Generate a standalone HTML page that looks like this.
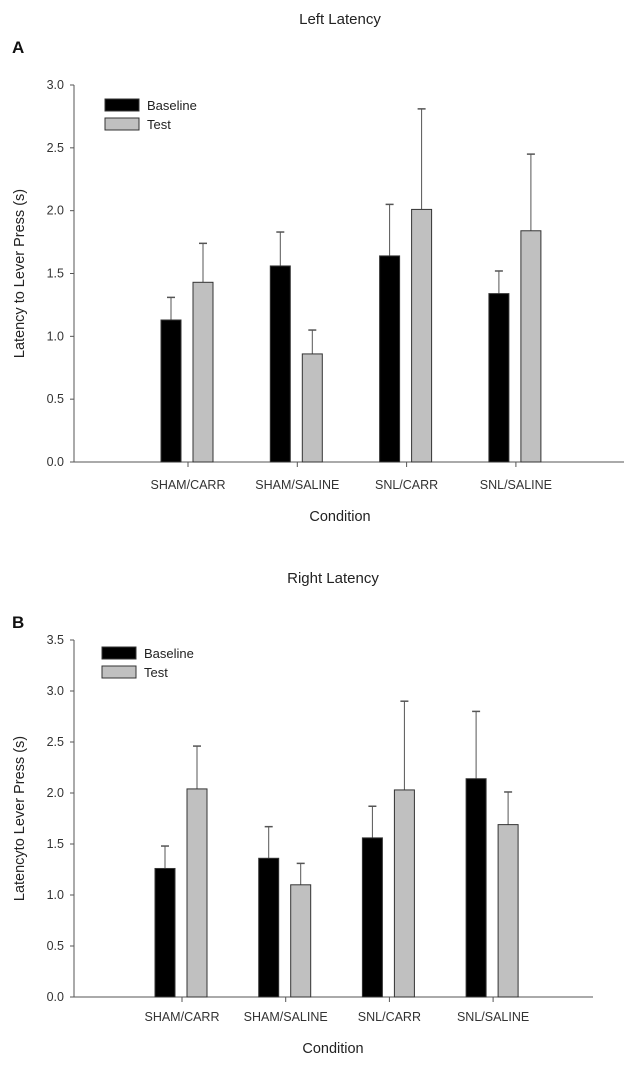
<!DOCTYPE html>
<html><head><meta charset="utf-8"><style>
body{margin:0;background:#fff;}
svg{display:block;font-family:"Liberation Sans",Arial,sans-serif;}
</style></head><body>
<svg id="fig" width="630" height="1065"></svg>
<script>
const categories = ["SHAM/CARR","SHAM/SALINE","SNL/CARR","SNL/SALINE"];
const leftBaseline = [1.13,1.56,1.64,1.34];
const leftBaselineErr = [1.31,1.83,2.05,1.52];
const leftTest = [1.43,0.86,2.01,1.84];
const leftTestErr = [1.74,1.05,2.81,2.45];
const leftTicks = ["0.0","0.5","1.0","1.5","2.0","2.5","3.0"];
const rightBaseline = [1.26,1.36,1.56,2.14];
const rightBaselineErr = [1.48,1.67,1.87,2.80];
const rightTest = [2.04,1.10,2.03,1.69];
const rightTestErr = [2.46,1.31,2.90,2.01];
const rightTicks = ["0.0","0.5","1.0","1.5","2.0","2.5","3.0","3.5"];

const NS="http://www.w3.org/2000/svg";
const svg=document.getElementById('fig');
function mk(tag,attrs,parent,text){const e=document.createElementNS(NS,tag);for(const k in attrs)e.setAttribute(k,attrs[k]);if(text!==undefined)e.textContent=text;(parent||svg).appendChild(e);return e;}

function chart(o){
  const g=mk('g',{});
  
  
  const ymax=parseFloat(o.ticks[o.ticks.length-1]);
  const y=v=>o.y0-(v/ymax)*(o.y0-o.yTop);
  const x=i=>o.x0+i*o.step;
  let t=mk('text',{x:o.titleX,y:o.titleY,'text-anchor':'middle','font-size':15,fill:'#222'},g,o.title);
  
  t=mk('text',{x:12,y:o.letterY,'font-size':17,'font-weight':'bold',fill:'#111'},g,o.letter);
  
  let ax=mk('line',{x1:74,y1:o.yTop,x2:74,y2:o.y0,stroke:'#555','stroke-width':1},g);
  
  ax=mk('line',{x1:74,y1:o.y0,x2:o.xEnd,y2:o.y0,stroke:'#555','stroke-width':1},g);
  
  o.ticks.forEach(tk=>{
    const yy=y(parseFloat(tk));
    mk('line',{x1:70,y1:yy,x2:74,y2:yy,stroke:'#555'},g);
    const l=mk('text',{x:64,y:yy+4,'text-anchor':'end','font-size':12.5,fill:'#333'},g,tk);
    
  });
  categories.forEach((c,i)=>{
    const cx=x(i);
    mk('line',{x1:cx,y1:o.y0,x2:cx,y2:o.y0+5,stroke:'#555'},g);
    const l=mk('text',{x:cx,y:o.catY,'text-anchor':'middle','font-size':12.5,fill:'#333'},g,c);
    
    [[o.base,o.baseErr,-27,'#000','baseline'],[o.test,o.testErr,5,'#c0c0c0','test']].forEach(s=>{
      const bx=cx+s[2], top=y(s[0][i]), et=y(s[1][i]);
      mk('line',{x1:bx+10,y1:top,x2:bx+10,y2:et,stroke:'#555'},g);
      mk('line',{x1:bx+6,y1:et,x2:bx+14,y2:et,stroke:'#555','stroke-width':1.5},g);
      const r=mk('rect',{x:bx,y:top,width:20,height:o.y0-top,fill:s[3],stroke:'#333','stroke-width':1},g);
      
    });
  });
  t=mk('text',{x:o.condX,y:o.condY,'text-anchor':'middle','font-size':14.5,fill:'#222'},g,'Condition');
  
  const cyy=(o.yTop+o.y0)/2;
  t=mk('text',{x:0,y:0,transform:`translate(24,${cyy}) rotate(-90)`,'text-anchor':'middle','font-size':14.5,fill:'#222'},g,o.yTitle);
  
  let r=mk('rect',{x:o.legX,y:o.legY,width:34,height:12,fill:'#000',stroke:'#333'},g);
  
  t=mk('text',{x:o.legX+42,y:o.legY+11,'font-size':13,fill:'#222'},g,'Baseline');
  
  r=mk('rect',{x:o.legX,y:o.legY+19,width:34,height:12,fill:'#c0c0c0',stroke:'#333'},g);
  
  t=mk('text',{x:o.legX+42,y:o.legY+30,'font-size':13,fill:'#222'},g,'Test');
  
}
chart({name:'left-latency-chart',title:'Left Latency',titleX:340,titleY:24,letter:'A',letterY:53,yTitle:'Latency to Lever Press (s)',
  ticks:leftTicks,yTop:85,y0:462,x0:188,step:109.3,xEnd:624,catY:489,condX:340,condY:521,
  base:leftBaseline,baseErr:leftBaselineErr,test:leftTest,testErr:leftTestErr,legX:105,legY:99});
chart({name:'right-latency-chart',title:'Right Latency',titleX:333,titleY:583,letter:'B',letterY:628,yTitle:'Latencyto Lever Press (s)',
  ticks:rightTicks,yTop:640,y0:997,x0:182,step:103.7,xEnd:593,catY:1021,condX:333,condY:1053,
  base:rightBaseline,baseErr:rightBaselineErr,test:rightTest,testErr:rightTestErr,legX:102,legY:647});
</script>
</body></html>
